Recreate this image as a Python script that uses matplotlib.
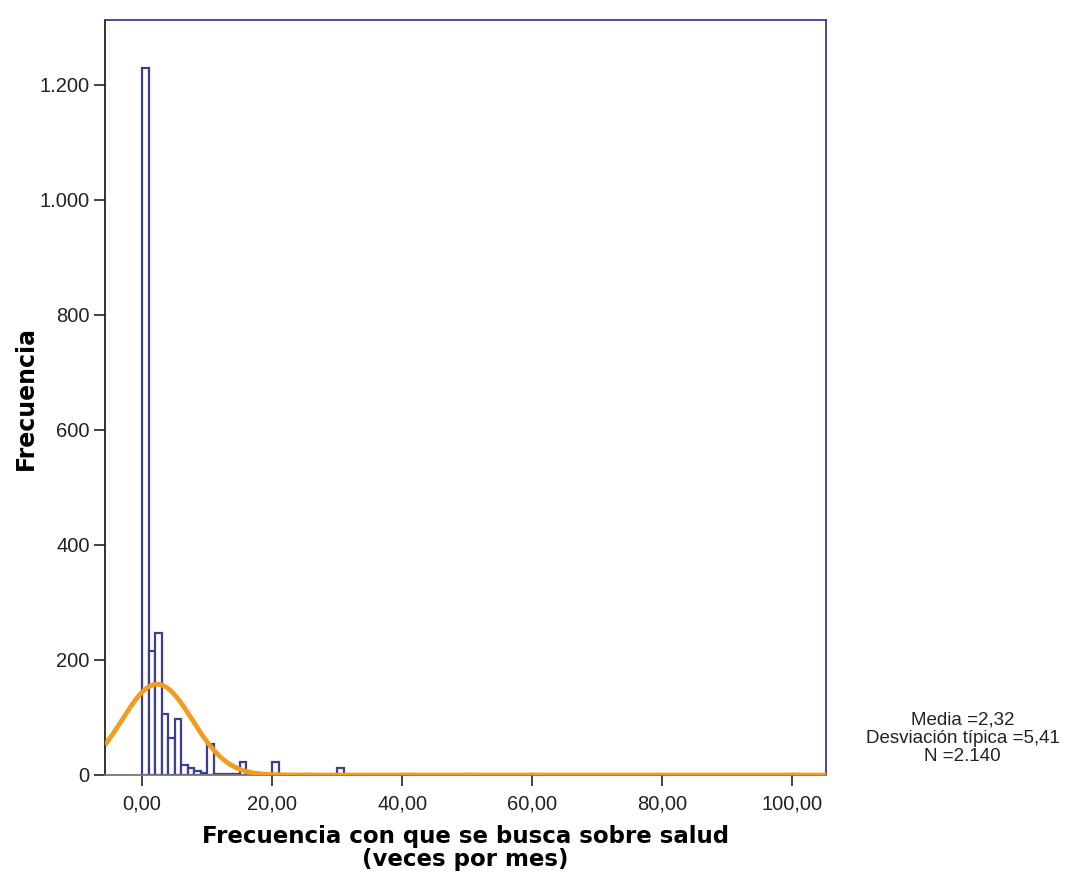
import numpy as np
import matplotlib
matplotlib.use("Agg")
import matplotlib.pyplot as plt
from matplotlib.ticker import FuncFormatter

plt.rcParams['font.family'] = ['Liberation Sans', 'DejaVu Sans']

# Histogram bins (width 1)
bin_starts = [0, 1, 2, 3, 4, 5, 6, 7, 8, 9, 10, 11, 12, 13, 14, 15, 20, 25, 30, 40, 50, 60, 100]
counts = [1228, 215, 246, 106, 65, 98, 18, 12, 7, 3, 54, 2, 1, 1, 2, 22, 22, 2, 13, 2, 2, 1, 1]

media = 2.32
desv = 5.41
n_total = 2140

x_ticks = [0, 20, 40, 60, 80, 100]
y_ticks = [0, 200, 400, 600, 800, 1000, 1200]

navy = '#3a3f8f'
orange = '#f39c1f'

fig = plt.figure(figsize=(10.66, 8.76), dpi=100)
ax = fig.add_axes([0.0985, 0.1153, 0.6765, 0.8617])

ax.bar(bin_starts, counts, width=1.0, align='edge', facecolor='white',
       edgecolor=navy, linewidth=1.6, zorder=2)

# normal curve scaled to counts (bin width 1)
xs = np.linspace(-5.7, 105.2, 600)
ys = n_total * 1.0 / (desv * np.sqrt(2 * np.pi)) * np.exp(-0.5 * ((xs - media) / desv) ** 2)
ax.plot(xs, ys, color=orange, linewidth=3.4, zorder=3, solid_capstyle='butt')

ax.set_xlim(-5.7, 105.2)
ax.set_ylim(0, 1312)
ax.set_xticks(x_ticks)
ax.set_yticks(y_ticks)
ax.xaxis.set_major_formatter(FuncFormatter(lambda v, p: f"{v:.2f}".replace('.', ',')))
ax.yaxis.set_major_formatter(FuncFormatter(lambda v, p: f"{int(v):,}".replace(',', '.')))
ax.tick_params(axis='both', direction='out', length=8, width=1.2, labelsize=14.5,
               color='#222222', labelcolor='#222222')
ax.tick_params(axis='x', pad=6)
ax.tick_params(axis='y', pad=3)

for side in ['top', 'right']:
    ax.spines[side].set_color(navy)
    ax.spines[side].set_linewidth(1.3)
ax.spines['left'].set_color('#222222')
ax.spines['left'].set_linewidth(1.3)
ax.spines['bottom'].set_color('#777777')
ax.spines['bottom'].set_linewidth(1.3)

ax.set_xlabel("Frecuencia con que se busca sobre salud\n(veces por mes)",
              fontsize=16.5, fontweight='bold', family=['DejaVu Sans'],
              labelpad=8, linespacing=1.05)
ax.set_ylabel("Frecuencia", fontsize=17, fontweight='bold', family=['DejaVu Sans'],
              labelpad=1)

fig.text(0.903, 0.1575, f"Media ={media:.2f}".replace('.', ',') + "\n"
         + f"Desviación típica ={desv:.2f}".replace('.', ',') + "\n"
         + f"N ={n_total:,}".replace(',', '.'),
         ha='center', va='center', fontsize=13.5, linespacing=1.08, color='#222222')

fig.savefig("out.png", dpi=100, facecolor='white')
